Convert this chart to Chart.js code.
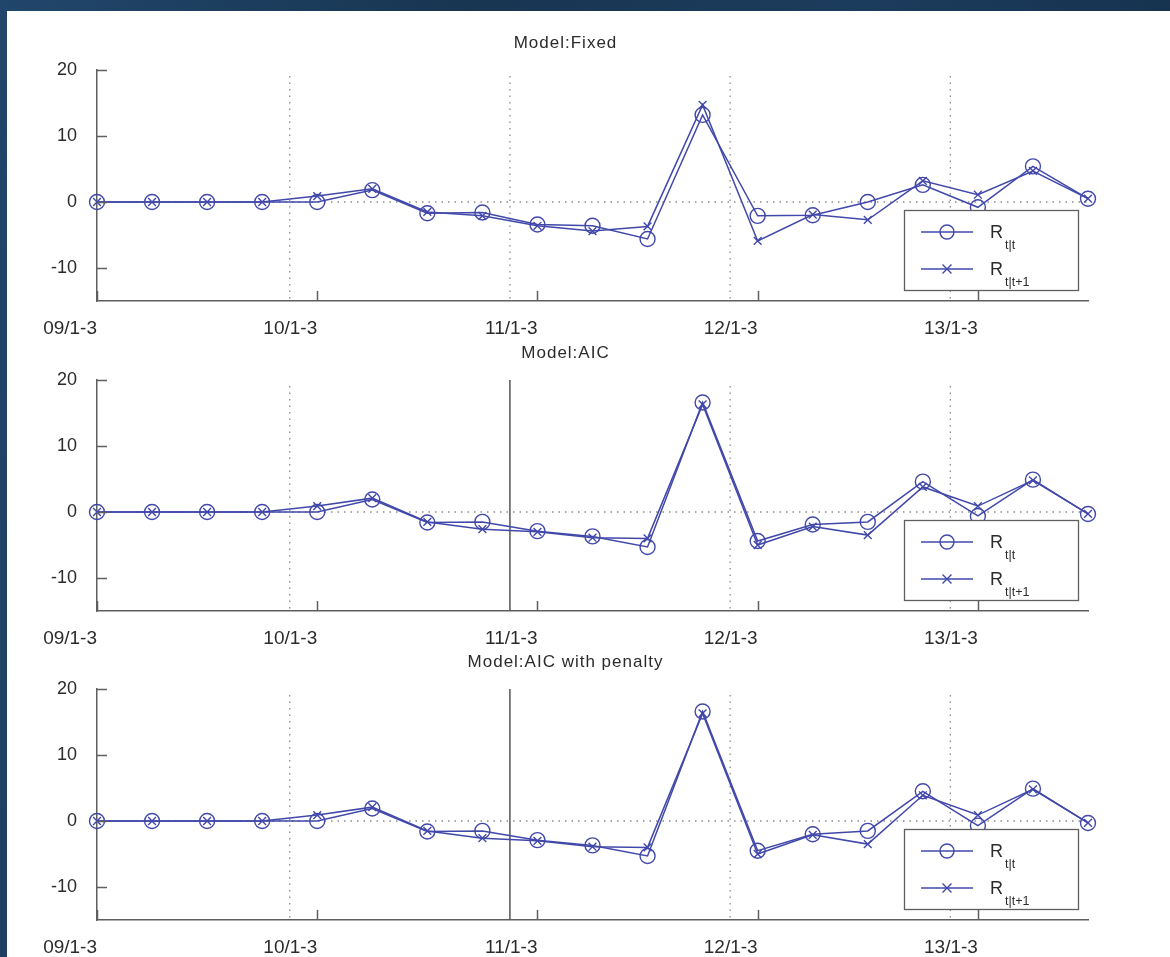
<!DOCTYPE html>
<html>
<head>
<meta charset="utf-8">
<title>Model comparison: R t|t and R t|t+1</title>
<script src="https://cdn.jsdelivr.net/npm/chart.js@4.4.1/dist/chart.umd.min.js"></script>
<style>
  html, body { margin: 0; padding: 0; }
  body {
    width: 1170px; height: 957px; overflow: hidden; position: relative;
    background: linear-gradient(100deg, #21466b 0%, #183652 35%, #1c3c5d 65%, #132d48 100%);
  }
  #sheet { position: absolute; left: 7px; top: 11px; width: 1163px; height: 946px; background: #fff; }
  canvas { position: absolute; left: 0; }
</style>
</head>
<body>
<div id="sheet"></div>
<canvas id="p1" width="1170" height="360" style="top:0px"></canvas>
<canvas id="p2" width="1170" height="360" style="top:310px"></canvas>
<canvas id="p3" width="1170" height="360" style="top:619px"></canvas>
<script>
// Quarterly periods on the x axis
const quarters = [
  '09/1-3', '09/4-6', '09/7-9', '09/10-12',
  '10/1-3', '10/4-6', '10/7-9', '10/10-12',
  '11/1-3', '11/4-6', '11/7-9', '11/10-12',
  '12/1-3', '12/4-6', '12/7-9', '12/10-12',
  '13/1-3', '13/4-6', '13/7-9'
];
// Only the first quarter of each year is labelled
const yearTickLabels = ['09/1-3', '10/1-3', '11/1-3', '12/1-3', '13/1-3'];
const yTickValues = [-10, 0, 10, 20];
const yMin = -15;
const yMax = 20;
// Year boundaries (between Q4 and Q1), drawn as dotted guides
const yearBreaks = [3.5, 7.5, 11.5, 15.5];

// Model: Fixed
const fixedFiltered  = [0, 0, 0, 0, 0.0, 1.8, -1.7, -1.6, -3.4, -3.6, -5.6, 13.2, -2.1, -2.0, 0.0, 2.6, -0.8, 5.4, 0.5];
const fixedPredicted = [0, 0, 0, 0, 0.9, 2.0, -1.5, -2.1, -3.6, -4.4, -3.7, 14.7, -5.9, -1.9, -2.7, 3.2, 1.1, 4.7, 0.5];
// Model: AIC
const aicFiltered    = [0, 0, 0, 0, 0.0, 1.9, -1.6, -1.5, -2.9, -3.7, -5.3, 16.6, -4.4, -1.9, -1.5, 4.6, -0.6, 4.9, -0.3];
const aicPredicted   = [0, 0, 0, 0, 0.9, 2.1, -1.5, -2.6, -3.0, -3.9, -4.0, 16.3, -5.0, -2.2, -3.5, 3.8, 0.9, 4.8, -0.3];
// Model: AIC with penalty
const penFiltered    = [0, 0, 0, 0, 0.0, 1.9, -1.6, -1.5, -2.9, -3.7, -5.3, 16.6, -4.5, -2.0, -1.5, 4.5, -0.7, 4.9, -0.3];
const penPredicted   = [0, 0, 0, 0, 0.9, 2.1, -1.5, -2.6, -3.0, -3.9, -4.0, 16.3, -5.0, -2.1, -3.5, 3.9, 0.9, 4.8, -0.3];

// Structural break selected by the AIC-based models (solid line)
const aicBreak = 7.5;

const LINE = '#4148aa';
const AXIS = '#5f5f5f';
const TEXT = '#2b2b2b';
const FONT = "'Liberation Sans', Arial, sans-serif";

Chart.defaults.font.family = FONT;
Chart.defaults.color = TEXT;

function drawR(ctx, x, y, sub) {
  ctx.fillStyle = TEXT;
  ctx.textAlign = 'left';
  ctx.textBaseline = 'alphabetic';
  ctx.font = '18px ' + FONT;
  ctx.fillText('R', x, y + 6);
  ctx.font = '12.5px ' + FONT;
  ctx.fillText(sub, x + 15, y + 17);
}

const decor = {
  id: 'decor',
  beforeDatasetsDraw(chart, args, opts) {
    const { ctx, chartArea: a, scales: { x, y } } = chart;
    ctx.save();
    ctx.strokeStyle = '#8c8c8c';
    ctx.lineWidth = 1.3;
    ctx.setLineDash([1.5, 5]);
    const y0 = y.getPixelForValue(0);
    ctx.beginPath(); ctx.moveTo(a.left, y0); ctx.lineTo(a.right, y0); ctx.stroke();
    yearBreaks.forEach(b => {
      if (b === opts.solidBreak) return;
      const px = x.getPixelForValue(b);
      ctx.beginPath(); ctx.moveTo(px, a.top + 6); ctx.lineTo(px, a.bottom); ctx.stroke();
    });
    ctx.setLineDash([]);
    if (opts.solidBreak != null) {
      const px = x.getPixelForValue(opts.solidBreak);
      ctx.strokeStyle = '#555';
      ctx.lineWidth = 1.5;
      ctx.beginPath(); ctx.moveTo(px, a.top); ctx.lineTo(px, a.bottom); ctx.stroke();
    }
    ctx.restore();
  },
  afterDatasetsDraw(chart, args, opts) {
    const { ctx, chartArea: a, scales: { x, y } } = chart;
    ctx.save();
    // inward tick marks
    ctx.strokeStyle = AXIS;
    ctx.lineWidth = 1.5;
    yTickValues.forEach(v => {
      const py = Math.round(y.getPixelForValue(v)) + 0.5;
      ctx.beginPath(); ctx.moveTo(a.left, py); ctx.lineTo(a.left + 10, py); ctx.stroke();
    });
    quarters.forEach((q, i) => {
      if (!yearTickLabels.includes(q)) return;
      const px = Math.round(x.getPixelForValue(i)) + 0.5;
      ctx.beginPath(); ctx.moveTo(px, a.bottom); ctx.lineTo(px, a.bottom - 10); ctx.stroke();
    });

    // legend box
    const bw = 174, bh = 80;
    const bx = a.right - 10 - bw, by = a.bottom - 11 - bh;
    ctx.fillStyle = '#fff';
    ctx.fillRect(bx, by, bw, bh);
    ctx.strokeStyle = AXIS;
    ctx.lineWidth = 1.3;
    ctx.strokeRect(Math.round(bx) + 0.5, Math.round(by) + 0.5, bw, bh);

    const rows = [by + 22, by + 59];
    ctx.strokeStyle = LINE;
    ctx.lineWidth = 1.4;
    rows.forEach((ry, k) => {
      ctx.beginPath(); ctx.moveTo(bx + 17, ry); ctx.lineTo(bx + 69, ry); ctx.stroke();
      const cx = bx + 43;
      ctx.beginPath();
      if (k === 0) {
        ctx.arc(cx, ry, 7, 0, Math.PI * 2);
      } else {
        ctx.moveTo(cx - 4.5, ry - 4.5); ctx.lineTo(cx + 4.5, ry + 4.5);
        ctx.moveTo(cx + 4.5, ry - 4.5); ctx.lineTo(cx - 4.5, ry + 4.5);
      }
      ctx.stroke();
    });
    drawR(ctx, bx + 86, rows[0], 't|t');
    drawR(ctx, bx + 86, rows[1], 't|t+1');

    // panel title
    ctx.fillStyle = TEXT;
    ctx.font = '17px ' + FONT;
    ctx.textAlign = 'center';
    ctx.textBaseline = 'middle';
    ctx.letterSpacing = '1px';
    ctx.fillText(opts.title, (a.left + a.right) / 2 - 27, a.top - 27);
    ctx.restore();
  }
};

function makePanel(id, title, filtered, predicted, solidBreak) {
  return new Chart(document.getElementById(id), {
    type: 'line',
    data: {
      labels: quarters,
      datasets: [
        {
          label: 'R t|t',
          data: filtered,
          borderColor: LINE,
          borderWidth: 1.5,
          pointStyle: 'circle',
          pointRadius: 7.5,
          pointBorderWidth: 1.4,
          pointBorderColor: LINE,
          pointBackgroundColor: 'rgba(0,0,0,0)',
          tension: 0,
          clip: false
        },
        {
          label: 'R t|t+1',
          data: predicted,
          borderColor: LINE,
          borderWidth: 1.5,
          pointStyle: 'crossRot',
          pointRadius: 5.5,
          pointBorderWidth: 1.4,
          pointBorderColor: LINE,
          tension: 0,
          clip: false
        }
      ]
    },
    options: {
      responsive: false,
      animation: false,
      devicePixelRatio: 1,
      events: [],
      layout: { padding: { top: 70, right: 82, bottom: 0, left: 0 } },
      plugins: {
        legend: { display: false },
        title: { display: false },
        tooltip: { enabled: false },
        decor: { title, solidBreak }
      },
      scales: {
        x: {
          type: 'category',
          grid: { display: false, drawTicks: false },
          border: { display: true, color: AXIS, width: 1.5 },
          ticks: {
            autoSkip: false,
            maxRotation: 0,
            minRotation: 0,
            align: 'end',
            padding: 16,
            color: TEXT,
            font: { size: 19 },
            callback: (v, i) => (yearTickLabels.includes(quarters[i]) ? quarters[i] : '')
          },
          afterFit: s => { s.height = 59; }
        },
        y: {
          min: yMin,
          max: yMax,
          grid: { display: false, drawTicks: false },
          border: { display: true, color: AXIS, width: 1.5 },
          ticks: { padding: 20, color: TEXT, font: { size: 18 } },
          afterBuildTicks: s => { s.ticks = yTickValues.map(v => ({ value: v })); },
          afterFit: s => { s.width = 97; }
        }
      }
    },
    plugins: [decor]
  });
}

makePanel('p1', 'Model:Fixed', fixedFiltered, fixedPredicted, null);
makePanel('p2', 'Model:AIC', aicFiltered, aicPredicted, aicBreak);
makePanel('p3', 'Model:AIC with penalty', penFiltered, penPredicted, aicBreak);
</script>
</body>
</html>
